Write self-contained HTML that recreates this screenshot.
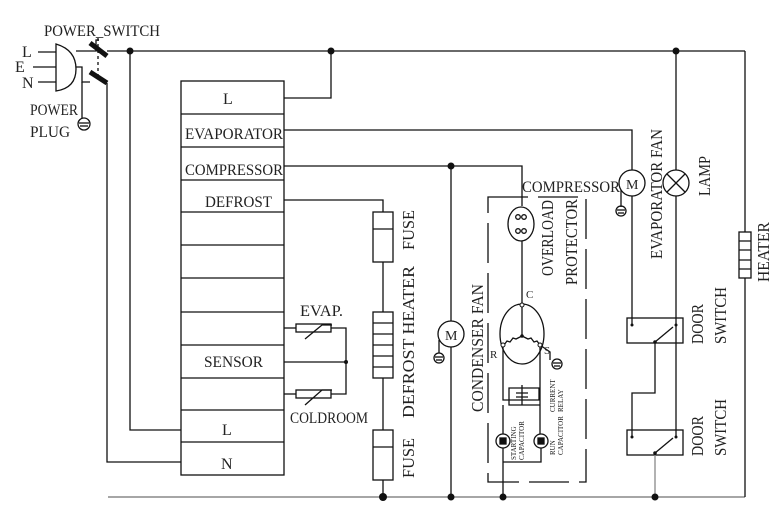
<!DOCTYPE html>
<html><head><meta charset="utf-8"><style>body{margin:0;background:#fff}svg{display:block}text{font-family:"Liberation Serif",serif;fill:#222}</style></head><body>
<svg width="782" height="521" viewBox="0 0 782 521" xmlns="http://www.w3.org/2000/svg">
<g stroke="#111" stroke-width="1.3" fill="none">
<path d="M56 44 Q76 50 76 69 Q76 88 56 91 Z" fill="#fff"/>
<line x1="38" y1="52" x2="56" y2="52"/><line x1="33" y1="67" x2="56" y2="67"/><line x1="38" y1="82" x2="56" y2="82"/>
<path d="M76 51 H96 V40 H99"/><path d="M76 67 H82 V82 H90"/><path d="M82 82 V118"/>
<circle cx="84" cy="124" r="6"/><line x1="79" y1="123" x2="89" y2="123"/><line x1="80" y1="126" x2="88" y2="126"/>
<line x1="98" y1="38" x2="98" y2="80" stroke-dasharray="3,3"/>
<line x1="90" y1="43" x2="107" y2="56" stroke-width="5"/>
<line x1="90" y1="72" x2="107" y2="83" stroke-width="5"/>
<line x1="107" y1="51" x2="745" y2="51"/>
<path d="M107 83 V462 H181"/>
<path d="M130 51 V430 H181"/>
<line x1="108" y1="497" x2="745" y2="497" stroke="#888" stroke-width="1.6"/>
<rect x="181" y="81" width="103" height="394"/>
<path d="M181 114H284M181 147H284M181 180H284M181 212H284M181 245H284M181 278H284M181 312H284M181 345H284M181 378H284M181 410H284M181 442H284"/>
<path d="M284 98 H331 V51"/>
<path d="M284 130 H632 V170"/>
<path d="M284 166 H522 V206"/>
<path d="M284 200 H383 V212"/>
<rect x="373" y="212" width="20" height="50"/><line x1="373" y1="229" x2="393" y2="229"/>
<line x1="383" y1="262" x2="383" y2="312"/>
<rect x="373" y="312" width="20" height="66"/><path d="M373 323H393M373 334H393M373 345H393M373 356H393M373 367H393"/>
<line x1="383" y1="378" x2="383" y2="430"/>
<rect x="373" y="430" width="20" height="50"/><line x1="373" y1="447" x2="393" y2="447"/>
<line x1="383" y1="480" x2="383" y2="497"/>
<path d="M284 328 H296"/><rect x="296" y="324" width="35" height="8"/><path d="M331 328 H346 V394 H331"/>
<path d="M305 339 L322 325 H332"/>
<path d="M284 362 H346"/>
<path d="M284 394 H296"/><rect x="296" y="390" width="35" height="8"/>
<path d="M305 405 L322 390 H332"/>
<line x1="451" y1="166" x2="451" y2="321"/><line x1="451" y1="347" x2="451" y2="497"/>
<circle cx="451" cy="334" r="13" fill="#fff"/>
<path d="M439 340 V353"/><circle cx="439" cy="358" r="5"/><line x1="435" y1="357" x2="443" y2="357"/><line x1="436" y1="360" x2="442" y2="360"/>
<rect x="488" y="197" width="98" height="285" stroke-dasharray="40,10"/>
<ellipse cx="521" cy="224" rx="13" ry="17"/>
<circle cx="518" cy="217" r="2.3"/><circle cx="524" cy="217" r="2.3"/><circle cx="518" cy="231" r="2.3"/><circle cx="524" cy="231" r="2.3"/>
<line x1="522" y1="241" x2="522" y2="305"/>
<ellipse cx="522" cy="334" rx="22" ry="30"/>
<line x1="522" y1="305" x2="522" y2="336"/>
<path d="M522 336 L516 339 L513 338 L510 342 L507 341 L504 345 M522 336 L528 339 L531 338 L534 342 L537 341 L540 345"/>
<path d="M503 345 V400 H539 V388 H509 V405 H540"/>
<path d="M540 345 L550 352 V360"/>
<circle cx="557" cy="364" r="5"/><line x1="553" y1="363" x2="561" y2="363"/><line x1="554" y1="366" x2="560" y2="366"/>
<line x1="522" y1="385" x2="522" y2="405"/><path d="M516 393 H528 M516 397 H528"/>
<path d="M540 345 V434"/>
<path d="M503 405 V434 M503 448 V497"/>
<circle cx="503" cy="441" r="7" fill="#fff"/><rect x="500" y="438" width="6" height="6" fill="#111"/>
<circle cx="541" cy="441" r="7" fill="#fff"/><rect x="538" y="438" width="6" height="6" fill="#111"/>
<path d="M541 448 V462 H503"/>
<line x1="632" y1="196" x2="632" y2="325"/>
<circle cx="632" cy="183" r="13" fill="#fff"/>
<path d="M621 190 V207"/><circle cx="621" cy="211" r="5"/><line x1="617" y1="210" x2="625" y2="210"/><line x1="618" y1="213" x2="624" y2="213"/>
<line x1="676" y1="51" x2="676" y2="170"/>
<circle cx="676" cy="183" r="13" fill="#fff"/>
<path d="M667 174 L685 192 M685 174 L667 192"/>
<line x1="676" y1="196" x2="676" y2="437"/>
<rect x="627" y="318" width="56" height="25"/>
<path d="M655 342 L673 327"/>
<path d="M655 342 V393 H632 V437"/>
<rect x="627" y="430" width="56" height="25"/>
<path d="M655 453 L673 438"/>
<path d="M655 455 V497" stroke="#888"/>
<path d="M745 51 V232 M745 278 V497"/>
<rect x="739" y="232" width="12" height="46"/><path d="M739 241H751M739 250H751M739 260H751M739 269H751"/>
</g>
<g fill="#111">
<circle cx="130" cy="51" r="3.5"/><circle cx="331" cy="51" r="3.5"/><circle cx="676" cy="51" r="3.5"/>
<circle cx="451" cy="166" r="3.5"/><circle cx="383" cy="497" r="4"/><circle cx="451" cy="497" r="3.5"/>
<circle cx="503" cy="497" r="3.5"/><circle cx="655" cy="497" r="3.5"/><circle cx="346" cy="362" r="2"/>
<circle cx="632" cy="325" r="1.5"/><circle cx="676" cy="325" r="1.5"/><circle cx="655" cy="342" r="1.8"/>
<circle cx="632" cy="437" r="1.5"/><circle cx="676" cy="437" r="1.5"/><circle cx="655" cy="453" r="1.8"/>
<circle cx="522" cy="336" r="1.8"/>
</g>
<g stroke="#111" fill="#fff" stroke-width="1"><circle cx="522" cy="305" r="2"/><circle cx="503" cy="345" r="2"/><circle cx="540" cy="345" r="2"/></g>
<g font-size="16">
<text x="44" y="36" textLength="116" lengthAdjust="spacingAndGlyphs">POWER_SWITCH</text>
<text x="22" y="57">L</text><text x="15" y="72">E</text><text x="22" y="88">N</text>
<text x="30" y="115" textLength="48" lengthAdjust="spacingAndGlyphs">POWER</text><text x="30" y="137" textLength="40" lengthAdjust="spacingAndGlyphs">PLUG</text>
<text x="223" y="104">L</text>
<text x="185" y="139" textLength="98" lengthAdjust="spacingAndGlyphs">EVAPORATOR</text>
<text x="185" y="175" textLength="98" lengthAdjust="spacingAndGlyphs">COMPRESSOR</text>
<text x="205" y="207" textLength="67" lengthAdjust="spacingAndGlyphs">DEFROST</text>
<text x="204" y="367" textLength="59" lengthAdjust="spacingAndGlyphs">SENSOR</text>
<text x="222" y="435">L</text><text x="221" y="469">N</text>
<text x="300" y="316" textLength="43" lengthAdjust="spacingAndGlyphs">EVAP.</text>
<text x="290" y="423" textLength="78" lengthAdjust="spacingAndGlyphs">COLDROOM</text>
<text x="522" y="192" textLength="98" lengthAdjust="spacingAndGlyphs">COMPRESSOR</text>
<text x="626" y="189" font-size="14">M</text><text x="445" y="340" font-size="14">M</text>
<text x="490" y="358" font-size="11">R</text><text x="526" y="298" font-size="11">C</text><text x="544" y="354" font-size="11">S</text>
</g>
<g font-size="17">
<text transform="translate(414,250) rotate(-90)" textLength="40" lengthAdjust="spacingAndGlyphs">FUSE</text>
<text transform="translate(414,418) rotate(-90)" textLength="152" lengthAdjust="spacingAndGlyphs">DEFROST HEATER</text>
<text transform="translate(414,478) rotate(-90)" textLength="40" lengthAdjust="spacingAndGlyphs">FUSE</text>
<text transform="translate(483,412) rotate(-90)" textLength="128" lengthAdjust="spacingAndGlyphs">CONDENSER FAN</text>
<text transform="translate(553,276) rotate(-90)" textLength="76" lengthAdjust="spacingAndGlyphs">OVERLOAD</text>
<text transform="translate(577,285) rotate(-90)" textLength="86" lengthAdjust="spacingAndGlyphs">PROTECTOR</text>
<text transform="translate(662,259) rotate(-90)" textLength="130" lengthAdjust="spacingAndGlyphs">EVAPORATOR FAN</text>
<text transform="translate(710,196) rotate(-90)" textLength="40" lengthAdjust="spacingAndGlyphs">LAMP</text>
<text transform="translate(769,282) rotate(-90)" textLength="60" lengthAdjust="spacingAndGlyphs">HEATER</text>
<text transform="translate(703,344) rotate(-90)" textLength="40" lengthAdjust="spacingAndGlyphs">DOOR</text>
<text transform="translate(726,344) rotate(-90)" textLength="57" lengthAdjust="spacingAndGlyphs">SWITCH</text>
<text transform="translate(703,456) rotate(-90)" textLength="40" lengthAdjust="spacingAndGlyphs">DOOR</text>
<text transform="translate(726,456) rotate(-90)" textLength="57" lengthAdjust="spacingAndGlyphs">SWITCH</text>
</g>
<g font-size="7">
<text transform="translate(516,460) rotate(-90)">STARTING</text>
<text transform="translate(524,460) rotate(-90)">CAPACITOR</text>
<text transform="translate(555,455) rotate(-90)">RUN</text>
<text transform="translate(563,455) rotate(-90)">CAPACITOR</text>
<text transform="translate(555,412) rotate(-90)">CURRENT</text>
<text transform="translate(563,412) rotate(-90)">RELAY</text>
</g>
</svg>
</body></html>
